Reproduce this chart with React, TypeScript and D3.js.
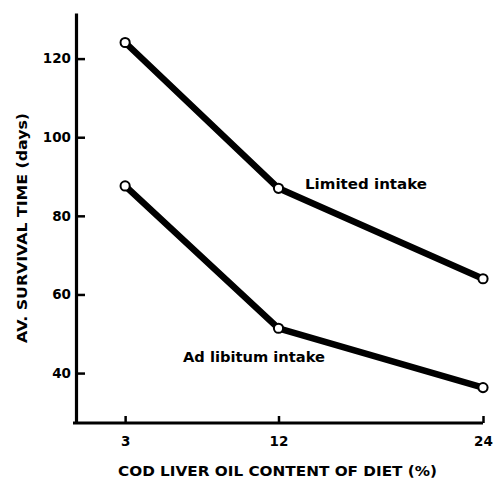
import React from "react";
import * as d3 from "d3";

const oilContent = [3, 12, 24];
const limitedIntake = [124.1, 87.0, 64.0];
const adLibitumIntake = [87.6, 51.4, 36.3];
const yTicks = [40, 60, 80, 100, 120];
const xTicks = [3, 12, 24];

const width = 494;
const height = 480;
const font = "'DejaVu Sans', sans-serif";

export default function App() {
  const svgRef = React.useRef<SVGSVGElement>(null);

  React.useEffect(() => {
    const svg = d3.select(svgRef.current);
    svg.selectAll("*").remove();

    const x = d3.scaleLinear([0, 24], [74, 483]);
    const y = d3.scaleLinear([27.3, 131.6], [423, 13]);

    // y axis, ticks pointing inward
    svg.append("g")
        .attr("transform", `translate(${x(0) + 2},0)`)
        .call(d3.axisLeft(y).tickValues(yTicks).tickSizeInner(-9).tickSizeOuter(0).tickPadding(5))
        .call(g => g.select(".domain").attr("stroke-width", 3.2))
        .call(g => g.selectAll(".tick line").attr("stroke-width", 2.5))
        .call(g => g.selectAll(".tick text")
            .attr("x", -5)
            .attr("text-anchor", "end")
            .attr("font-family", font)
            .attr("font-weight", "bold")
            .attr("font-size", 13.5)
            .attr("fill", "#000"));

    // x axis, ticks pointing up
    svg.append("g")
        .attr("transform", `translate(0,${y(27.3)})`)
        .call(d3.axisBottom(x).tickValues(xTicks).tickSizeInner(-7).tickSizeOuter(0).tickPadding(13))
        .call(g => g.select(".domain").attr("stroke-width", 3.2).attr("d", `M${x(0) - 1},0H${x(24)}`))
        .call(g => g.selectAll(".tick line").attr("stroke-width", 2.5))
        .call(g => g.selectAll(".tick text")
            .attr("font-family", font)
            .attr("font-weight", "bold")
            .attr("font-size", 13.5)
            .attr("fill", "#000"));

    const line = d3.line<number>((_, i) => x(oilContent[i]), d => y(d));

    for (const series of [limitedIntake, adLibitumIntake]) {
      svg.append("path")
          .attr("d", line(series))
          .attr("fill", "none")
          .attr("stroke", "#000")
          .attr("stroke-width", 6.5)
          .attr("stroke-linejoin", "round");
      svg.append("g")
        .selectAll("circle")
        .data(series)
        .join("circle")
          .attr("cx", (_, i) => x(oilContent[i]))
          .attr("cy", d => y(d))
          .attr("r", 4.6)
          .attr("fill", "#fff")
          .attr("stroke", "#000")
          .attr("stroke-width", 2);
    }

    const label = (text: string, lx: number, ly: number, len: number) =>
      svg.append("text")
          .attr("x", lx)
          .attr("y", ly)
          .attr("font-family", font)
          .attr("font-weight", "bold")
          .attr("font-size", 14.5)
          .attr("textLength", len)
          .attr("lengthAdjust", "spacingAndGlyphs")
          .text(text);

    label("Limited intake", 305, 189, 122);
    label("Ad libitum intake", 183, 362, 142);
    label("COD LIVER OIL CONTENT OF DIET  (%)", 118, 476, 319);

    svg.append("text")
        .attr("transform", "translate(27,343) rotate(-90)")
        .attr("font-family", font)
        .attr("font-weight", "bold")
        .attr("font-size", 14.5)
        .attr("textLength", 230)
        .attr("lengthAdjust", "spacingAndGlyphs")
        .text("AV. SURVIVAL TIME  (days)");
  }, []);

  return (
    <svg ref={svgRef} width={width} height={height}
      style={{ position: "absolute", left: 0, top: 0, background: "#fff" }} />
  );
}
